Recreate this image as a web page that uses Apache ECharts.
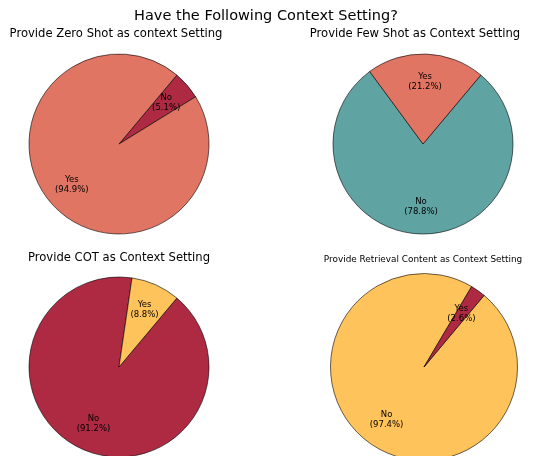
<!DOCTYPE html>
<html><head><meta charset="utf-8">
<script src="https://cdn.jsdelivr.net/npm/echarts@6/dist/echarts.min.js"></script>
<style>html,body{margin:0;padding:0;background:#fff}#c{width:533px;height:456px}</style>
</head><body><div id="c"></div>
<script>
const mainTitle = "Have the Following Context Setting?";
const subTitles = ["Provide Zero Shot as context Setting","Provide Few Shot as Context Setting","Provide COT as Context Setting","Provide Retrieval Content as Context Setting"];
const categories = ["No","Yes"];
const zeroShot = [5.1, 94.9];
const fewShot = [78.8, 21.2];
const cot = [91.2, 8.8];
const retrieval = [97.4, 2.6];

const SALMON="#E07563", TEAL="#5FA4A3", CRIMSON="#AE2A42", YELLOW="#FFC35C";
const panels = [
  {vals: zeroShot, colors:[CRIMSON, SALMON], c:[119,144], r:90, tx:116, ty:28, fs:11.6},
  {vals: fewShot, colors:[TEAL, SALMON], c:[423,144], r:90, tx:415, ty:28, fs:11.6},
  {vals: cot, colors:[CRIMSON, YELLOW], c:[119,367], r:90, tx:119, ty:252, fs:11.6},
  {vals: retrieval, colors:[YELLOW, CRIMSON], c:[424,367], r:93.5, tx:423, ty:255, fs:8.9}
];
const font = "DejaVu Sans";
const titles = [{text: mainTitle, left: 266, top: 9, textAlign:'center', padding:0,
  textStyle:{fontFamily:font, fontSize:14.5, fontWeight:'normal', color:'#000'}}];
const series = [];
panels.forEach((p,i)=>{
  titles.push({text: subTitles[i], left: p.tx, top: p.ty, textAlign:'center', padding:0,
    textStyle:{fontFamily:font, fontSize:p.fs, fontWeight:'normal', color:'#000'}});
  const data = categories.map((n,k)=>({name:n, value:p.vals[k], itemStyle:{color:p.colors[k]}}));
  series.push({type:'pie', center:p.c, radius:[0,p.r], startAngle:50, clockwise:true,
    silent:true, animation:false, label:{show:false}, labelLine:{show:false},
    itemStyle:{borderColor:'#000', borderWidth:0.6}, data});
  series.push({type:'pie', center:p.c, radius:[p.r*0.32,p.r], startAngle:50, clockwise:true,
    silent:true, animation:false, avoidLabelOverlap:false, labelLine:{show:false},
    itemStyle:{color:'rgba(0,0,0,0)', borderWidth:0},
    label:{show:true, position:'inside', fontFamily:font, fontSize:8.5, lineHeight:10, color:'#000',
      formatter: q => q.name + "\n(" + q.value.toFixed(1) + "%)"},
    data: categories.map((n,k)=>({name:n, value:p.vals[k]}))});
});
const chart = echarts.init(document.getElementById('c'), null, {renderer:'canvas'});
chart.setOption({animation:false, title:titles, series});
</script></body></html>
